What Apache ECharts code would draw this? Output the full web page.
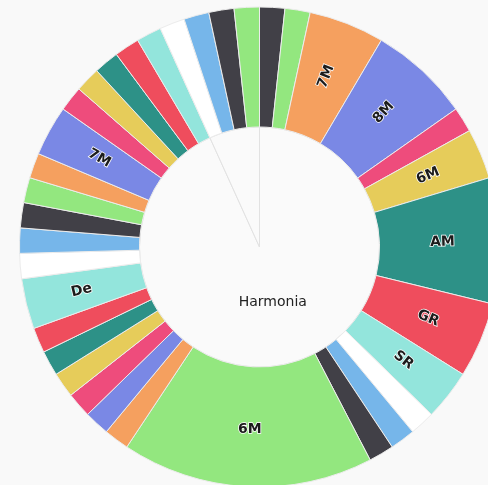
<!DOCTYPE html>
<html>
<head>
<meta charset="utf-8">
<script src="https://cdn.jsdelivr.net/npm/echarts@6/dist/echarts.min.js"></script>
<style>
html,body{margin:0;padding:0;background:#f9f9f9;}
#chart{width:488px;height:485px;}
</style>
</head>
<body>
<div id="chart"></div>
<script>
// Outer ring: slice labels and values (clockwise from 12 o'clock)
const ringNames = ['', '', '7M', '8M', '', '6M', 'AM', 'GR', 'SR', '', '', '', '6M', '', '', '', '', '', '', 'De', '', '', '', '', '', '7M', '', '', '', '', '', '', '', '', ''];
const ringValues = [1, 1, 3, 4, 1, 2, 5, 3, 2, 1, 1, 1, 10, 1, 1, 1, 1, 1, 1, 2, 1, 1, 1, 1, 1, 2, 1, 1, 1, 1, 1, 1, 1, 1, 1];
// Inner disc
const innerNames = ['Harmonia', ''];
const innerValues = [55, 4];

const palette = ['#414047', '#93e77f', '#f5a05f', '#7a88e5', '#ee4c7c', '#e6cc5a', '#2d9187', '#ef4d5d', '#93e5dc', '#ffffff', '#76b6ea'];
const horizontalLabelIndex = 12;

const chart = echarts.init(document.getElementById('chart'));
const ringData = ringValues.map((v, i) => {
  const item = { name: ringNames[i], value: v, itemStyle: { color: palette[i % palette.length] } };
  if (i === horizontalLabelIndex) item.label = { rotate: 0 };
  return item;
});
const innerData = innerValues.map((v, i) => ({ name: innerNames[i], value: v }));

chart.setOption({
  backgroundColor: '#f9f9f9',
  animation: false,
  series: [
    {
      type: 'pie',
      center: [259.5, 247],
      radius: [0, 120],
      startAngle: 90,
      silent: true,
      avoidLabelOverlap: false,
      itemStyle: { color: '#fafafa', borderColor: '#e2e2e2', borderWidth: 1 },
      label: {
        show: true, position: 'inside',
        formatter: (p) => (p.name ? p.name + '\n ' : ''),
        fontFamily: 'DejaVu Sans', fontSize: 14, color: '#222', lineHeight: 12
      },
      labelLine: { show: false },
      data: innerData
    },
    {
      type: 'pie',
      center: [259.5, 247],
      radius: [120, 240],
      startAngle: 90,
      silent: true,
      avoidLabelOverlap: false,
      itemStyle: { borderColor: '#ececec', borderWidth: 1 },
      label: {
        show: true, position: 'inside', formatter: '{b}', rotate: 'radial',
        fontFamily: 'DejaVu Sans', fontSize: 14, fontWeight: 'bold', color: '#1c1c1c',
        textBorderColor: '#ffffff', textBorderWidth: 1.5
      },
      labelLine: { show: false },
      data: ringData
    }
  ]
});
</script>
</body>
</html>
